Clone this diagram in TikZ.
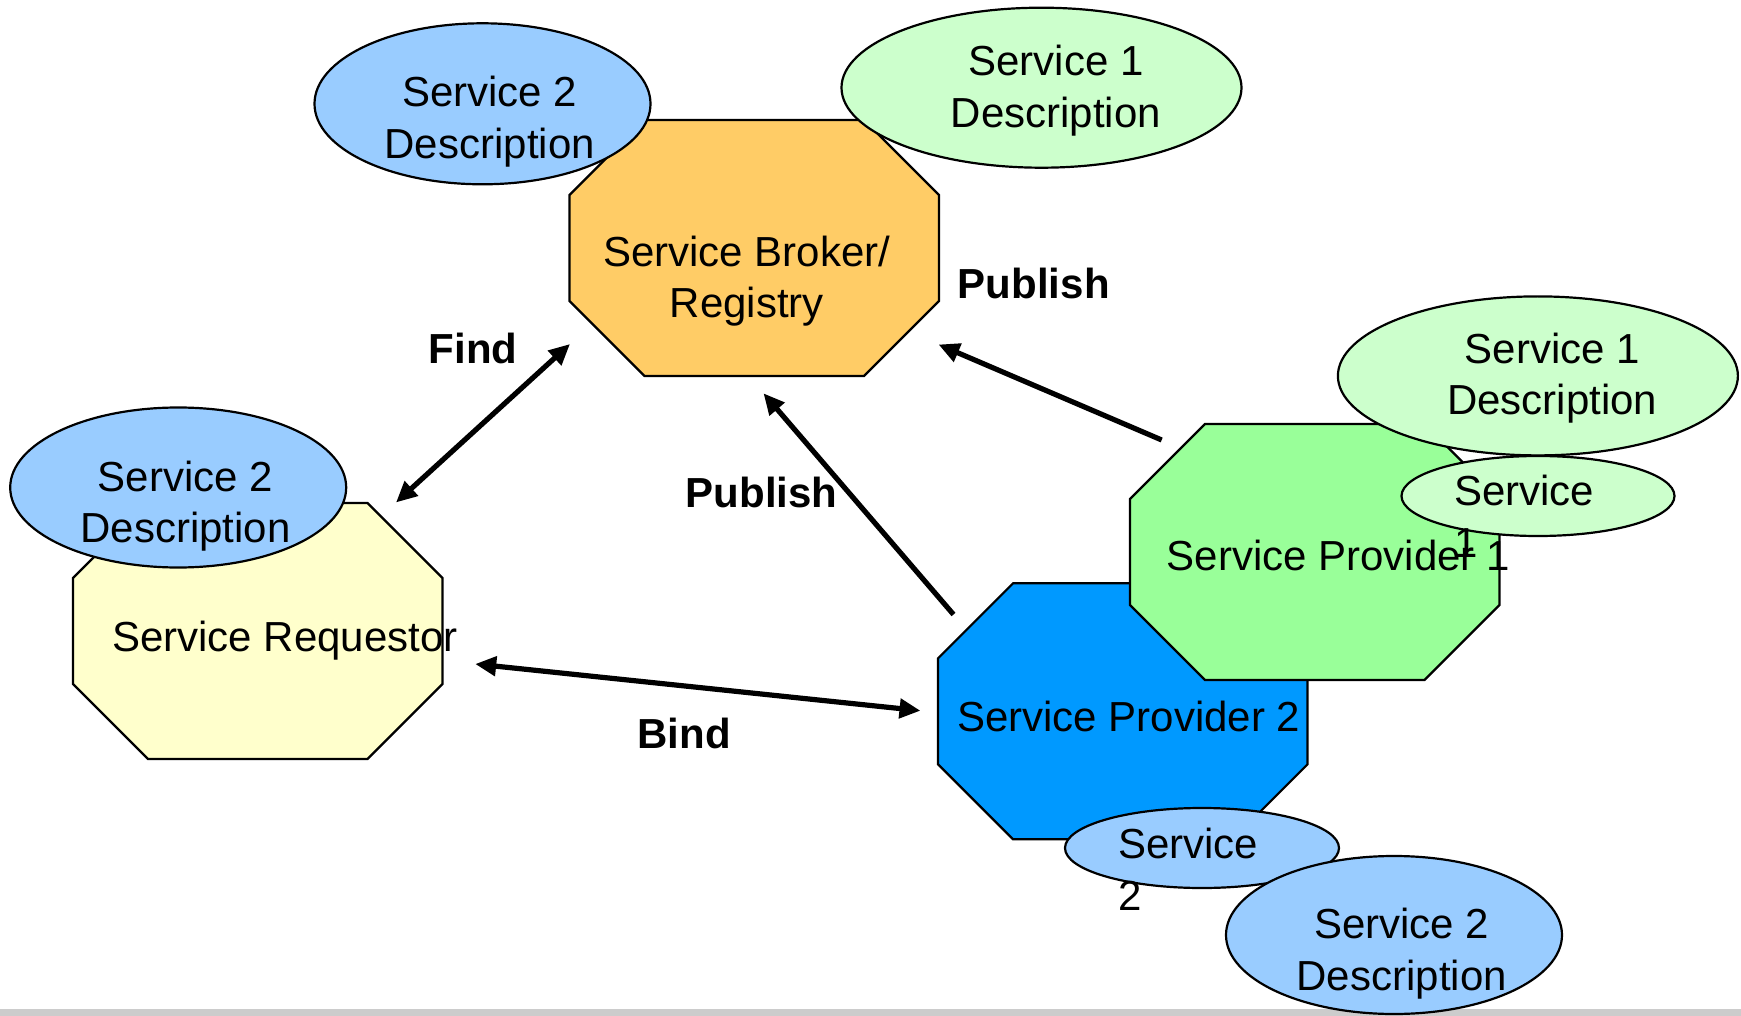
\documentclass[tikz,border=0pt]{standalone}
\usepackage{fontspec}
\setmainfont{Liberation Sans}
\usetikzlibrary{shapes.geometric,arrows.meta}
\definecolor{brokerC}{HTML}{FFCC66}
\definecolor{reqC}{HTML}{FFFFCC}
\definecolor{sponeC}{HTML}{99FF99}
\definecolor{sptwoC}{HTML}{0099FF}
\definecolor{blueE}{HTML}{99CCFF}
\definecolor{greenE}{HTML}{CCFFCC}
\definecolor{bandC}{HTML}{CCCCCC}
\newcommand{\octshape}[5]{%
  \filldraw[octline, fill=#5] ({#1+75},#2) -- ({#1+#3-75},#2) -- ({#1+#3},{#2+75}) -- ({#1+#3},{#2+#4-75}) -- ({#1+#3-75},{#2+#4}) -- ({#1+75},{#2+#4}) -- (#1,{#2+#4-75}) -- (#1,{#2+75}) -- cycle;}
\tikzset{
  octline/.style={draw=black, line width=2.2pt, line join=miter},
  ell/.style={ellipse, draw=black, line width=2.2pt, inner sep=0pt},
  txt/.style={inner sep=0pt, font=\fontsize{42}{51.5}\selectfont},
  lbl/.style={inner sep=0pt, font=\fontsize{42}{51.5}\selectfont\bfseries, anchor=base},
  conn/.style={line width=5.2pt, -{Triangle[length=21pt,width=19pt]}},
  dconn/.style={line width=5.2pt, {Triangle[length=21pt,width=19pt]}-{Triangle[length=21pt,width=19pt]}},
}
\begin{document}
\begin{tikzpicture}[x=1pt,y=-1pt]
\useasboundingbox (0,0) rectangle (1741,1016);
\fill[bandC] (0,1009) rectangle (1741,1016);

% octagons
\octshape{569.5}{120}{369.5}{256}{brokerC}
\octshape{73}{503}{369.5}{256}{reqC}
\octshape{938}{583.3}{369.5}{256}{sptwoC}
\octshape{1130}{424}{369.5}{256}{sponeC}

% ellipses
\node[ell, fill=blueE, minimum width=336pt, minimum height=161pt] (e2tl) at (482.5,103.8) {};
\node[ell, fill=greenE, minimum width=400pt, minimum height=160pt] (e1t) at (1041.5,87.7) {};
\node[ell, fill=blueE, minimum width=336pt, minimum height=160pt] (e2l) at (178.2,487.5) {};
\node[ell, fill=greenE, minimum width=400pt, minimum height=159pt] (e1r) at (1537.9,375.9) {};
\node[ell, fill=greenE, minimum width=273pt, minimum height=80pt] (s1) at (1538,496) {};
\node[ell, fill=blueE, minimum width=274pt, minimum height=80pt] (s2) at (1202,848) {};
\node[ell, fill=blueE, minimum width=336pt, minimum height=158pt] (e2b) at (1394,935) {};

% texts
\node[txt, anchor=north, align=center] (tbroker) at (746.7,235.7) {Service Broker/\\Registry};
\node[txt, anchor=base] (treq) at (285,651) {Service Requestor};
\node[txt, anchor=base west] (tsp1) at (1166.7,570) {Service Provider 1};
\node[txt, anchor=base west] (tsp2) at (957,731) {Service Provider 2};
\node[txt, anchor=north, align=center] (t2tl) at (489.7,76) {Service 2\\Description};
\node[txt, anchor=north, align=center] (t1t) at (1056,45) {Service 1\\Description};
\node[txt, anchor=north, align=center] (t2l) at (185.4,460.4) {Service 2\\Description};
\node[txt, anchor=north, align=center] (t1r) at (1552.3,332.7) {Service 1\\Description};
\node[txt, anchor=north, align=center] (t2b) at (1401.7,908.3) {Service 2\\Description};
\node[txt, anchor=north west, align=left] (ts1) at (1454,475) {Service\\1};
\node[txt, anchor=north west, align=left] (ts2) at (1118,828.3) {Service\\2};

% labels
\node[lbl] (lpub1) at (1033.8,299) {Publish};
\node[lbl] (lfind) at (473,363) {Find};
\node[lbl] (lpub2) at (761.7,507) {Publish};
\node[lbl] (lbind) at (684,748) {Bind};

% connector end points
\coordinate (findA) at (396,502.5);
\coordinate (findB) at (570,344);
\coordinate (pubOneA) at (1161.7,440);
\coordinate (pubOneB) at (938.5,344.5);
\coordinate (pubTwoA) at (953.5,614.5);
\coordinate (pubTwoB) at (763.5,393.3);
\coordinate (bindA) at (475.2,664);
\coordinate (bindB) at (920.5,710.7);

\draw[dconn] (findA) -- (findB);
\draw[conn] (pubOneA) -- (pubOneB);
\draw[conn] (pubTwoA) -- (pubTwoB);
\draw[dconn] (bindA) -- (bindB);
\end{tikzpicture}
\end{document}
